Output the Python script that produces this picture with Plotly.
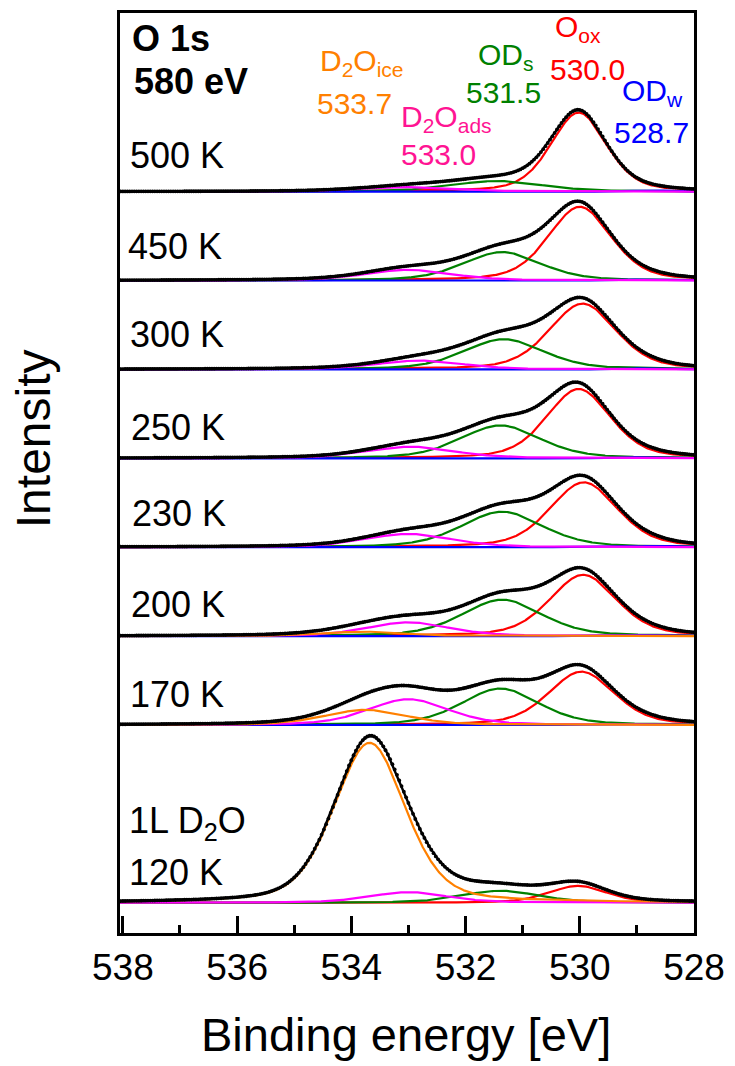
import numpy as np
import plotly.graph_objects as go

# Spectra from top to bottom of the stack
temps = ["500 K", "450 K", "300 K", "250 K", "230 K", "200 K", "170 K", "120 K"]
offsets = [8, 7, 6, 5, 4, 3, 2, 0]

# Fitted component heights (arb. units) for each spectrum
ice_height = [0.0, 0.0, 0.0, 0.0, 0.0, 0.05, 0.17, 1.80]
ads_height = [0.05, 0.12, 0.10, 0.13, 0.15, 0.155, 0.29, 0.12]
ods_height = [0.12, 0.32, 0.34, 0.37, 0.40, 0.41, 0.41, 0.135]
oox_height = [0.89, 0.83, 0.74, 0.78, 0.73, 0.69, 0.60, 0.19]
odw_height = [0.012, 0.015, 0.015, 0.015, 0.015, 0.015, 0.012, 0.0]

# Peak positions (eV)
ice_center = [533.7, 533.7, 533.7, 533.7, 533.7, 533.8, 533.75, 533.68]
ads_center = [533.0, 533.0, 532.8, 532.95, 533.0, 533.0, 533.0, 533.0]
ods_center = [531.45, 531.36, 531.33, 531.39, 531.36, 531.36, 531.39, 531.39]
oox_center = [530.02, 530.0, 529.95, 530.02, 529.93, 529.94, 529.97, 530.03]
odw_center = [528.7] * 8

# Peak widths, FWHM (eV)
ice_fwhm = [1.5, 1.5, 1.5, 1.5, 1.5, 1.7, 1.7, 1.47]
ads_fwhm = [2.0, 1.8, 1.8, 1.8, 1.8, 1.7, 1.65, 1.6]
ods_fwhm = [1.9, 1.6, 1.65, 1.65, 1.68, 1.65, 1.6, 1.6]
oox_fwhm = [1.15, 1.3, 1.38, 1.32, 1.39, 1.38, 1.36, 1.2]
odw_fwhm = [1.0] * 8

GL_MIX = 0.35  # Lorentzian fraction of the pseudo-Voigt line shape

# Component labels
comp_names = ["D<sub>2</sub>O<sub>ice</sub>", "D<sub>2</sub>O<sub>ads</sub>",
              "OD<sub>s</sub>", "O<sub>ox</sub>", "OD<sub>w</sub>"]
comp_values = ["533.7", "533.0", "531.5", "530.0", "528.7"]

x_ticks = [538, 536, 534, 532, 530, 528]
x_minor = [537, 535, 533, 531, 529]

C_ICE, C_ADS, C_ODS, C_OOX, C_ODW = "#ff8000", "#ff00ff", "#008000", "#ff0000", "#0000ff"
C_ADS_TXT = "#ff1493"


def pseudo_voigt(e, h, c, w, eta=GL_MIX):
    d = (e - c) / w
    g = np.exp(-4 * np.log(2) * d ** 2)
    lo = 1.0 / (1.0 + 4 * d ** 2)
    return h * ((1 - eta) * g + eta * lo)


e_line = np.round(np.arange(527.9, 538.15, 0.01), 3)
e_dots = np.round(np.arange(528.0, 538.05, 0.04), 3)

fig = go.Figure()

for i, t in enumerate(temps):
    off = offsets[i]
    comps = [
        (oox_height[i], oox_center[i], oox_fwhm[i], C_OOX),
        (ods_height[i], ods_center[i], ods_fwhm[i], C_ODS),
        (odw_height[i], odw_center[i], odw_fwhm[i], C_ODW),
        (ads_height[i], ads_center[i], ads_fwhm[i], C_ADS),
        (ice_height[i], ice_center[i], ice_fwhm[i], C_ICE),
    ]
    total_line = np.zeros_like(e_line)
    total_dots = np.zeros_like(e_dots)
    for h, c, w, col in comps:
        if h == 0:
            continue
        y = pseudo_voigt(e_line, h, c, w)
        total_line += y
        total_dots += pseudo_voigt(e_dots, h, c, w)
        fig.add_trace(go.Scatter(x=e_line, y=y + off, mode="lines",
                                 line=dict(color=col, width=2.2),
                                 hoverinfo="skip", showlegend=False))
    # envelope of the fit and the measured points
    fig.add_trace(go.Scatter(x=e_line, y=total_line + off, mode="lines",
                             line=dict(color="black", width=2.4),
                             hoverinfo="skip", showlegend=False))
    fig.add_trace(go.Scatter(x=e_dots, y=total_dots + off, mode="markers",
                             marker=dict(color="black", size=3.8),
                             hoverinfo="skip", showlegend=False))

# Plot-area geometry (pixels)
W, H = 735, 1066
L, R, T, B = 120, 698, 10, 933
PW, PH = R - L, B - T


def px(xp):
    return (xp - L) / PW


def py(yp):
    return (B - yp) / PH


FONT = "Liberation Sans, Arial, sans-serif"
annotations = []


def label(text, x, y, size, color="black", bold=False, anchor="left"):
    if bold:
        text = "<b>" + text + "</b>"
    annotations.append(dict(text=text, x=px(x), y=py(y), xref="paper", yref="paper",
                            xanchor=anchor, yanchor="middle", showarrow=False,
                            font=dict(family=FONT, size=size, color=color)))


# Header
label("O 1s", 130, 36, 36, bold=True)
label("580 eV", 132, 79, 36, bold=True)

# Temperature labels
temp_pos = [(128, 153), (126, 244), (128, 333), (129, 426), (130, 512), (129, 603), (128, 694)]
for (x, y), t in zip(temp_pos, temps[:-1]):
    label(t, x, y, 36)
label("1L D<sub>2</sub>O", 127, 823, 36)
label("120 K", 127, 872, 36)

# Component labels
label(comp_names[0], 319, 60, 30, C_ICE)
label(comp_values[0], 316, 101, 30, C_ICE)
label(comp_names[1], 401, 116, 30, C_ADS_TXT)
label(comp_values[1], 401, 152, 30, C_ADS_TXT)
label(comp_names[2], 478, 54, 30, C_ODS)
label(comp_values[2], 466, 90, 30, C_ODS)
label(comp_names[3], 556, 26, 30, C_OOX)
label(comp_values[3], 551, 67, 30, C_OOX)
label(comp_names[4], 623, 90, 30, C_ODW)
label(comp_values[4], 615, 130, 30, C_ODW)

# Axis titles
annotations.append(dict(text="Intensity", x=px(33), y=py(437), xref="paper", yref="paper",
                        xanchor="center", yanchor="middle", textangle=-90, showarrow=False,
                        font=dict(family=FONT, size=48, color="black")))
annotations.append(dict(text="Binding energy [eV]", x=px(408), y=py(1035), xref="paper",
                        yref="paper", xanchor="center", yanchor="middle", showarrow=False,
                        font=dict(family=FONT, size=47, color="black")))

fig.update_layout(
    width=W, height=H,
    margin=dict(l=L, r=W - R, t=T, b=H - B, pad=0),
    paper_bgcolor="white", plot_bgcolor="white",
    font=dict(family=FONT, color="black"),
    annotations=annotations,
    xaxis=dict(range=[538.05, 528.0], tickvals=x_ticks, ticktext=[str(v) for v in x_ticks],
               ticks="inside", ticklen=17, tickwidth=2.5, tickcolor="black",
               minor=dict(tickvals=x_minor, ticks="inside", ticklen=8,
                          tickwidth=2.5, tickcolor="black"),
               tickfont=dict(family=FONT, size=37, color="black"),
               showline=True, linewidth=3, linecolor="black", mirror=True,
               showgrid=False, zeroline=False),
    yaxis=dict(range=[-0.34, 10.01], showticklabels=False, ticks="",
               showline=True, linewidth=3, linecolor="black", mirror=True,
               showgrid=False, zeroline=False),
)

fig.write_html("out.html")
